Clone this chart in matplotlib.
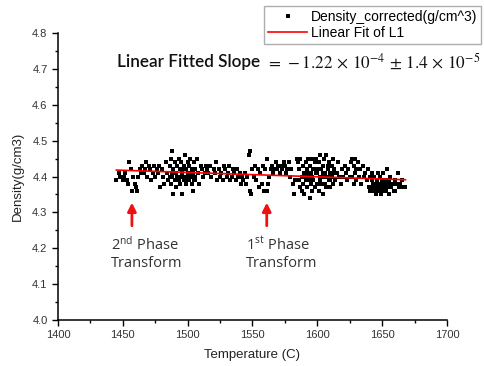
import numpy as np
import matplotlib
matplotlib.use('Agg')
import matplotlib.pyplot as plt
from matplotlib.ticker import MultipleLocator

plt.rcParams['font.family'] = ['Liberation Sans', 'DejaVu Sans']
plt.rcParams['mathtext.fontset'] = 'custom'
plt.rcParams['mathtext.rm'] = 'STIXGeneral'
plt.rcParams['mathtext.it'] = 'STIXGeneral:italic'
plt.rcParams['mathtext.bf'] = 'STIXGeneral:bold'
plt.rcParams['mathtext.sf'] = 'Open Sans'
plt.rcParams['mathtext.fallback'] = 'stix'

# scatter data, grouped by temperature range
temp = [
    # 1445-1476
    1445, 1447, 1448, 1450, 1451, 1452, 1453, 1454, 1455, 1456,
    1457, 1458, 1459, 1460, 1461, 1462, 1463, 1464, 1465, 1466,
    1467, 1468, 1469, 1470, 1471, 1472, 1473, 1474, 1475, 1476,
    # 1477-1515
    1477, 1478, 1479, 1480, 1481, 1482, 1483, 1484, 1485, 1486,
    1486, 1487, 1487, 1488, 1488, 1489, 1489, 1490, 1490, 1491,
    1491, 1492, 1492, 1493, 1493, 1494, 1494, 1495, 1495, 1496,
    1496, 1497, 1497, 1498, 1498, 1499, 1499, 1500, 1500, 1501,
    1501, 1502, 1502, 1503, 1503, 1504, 1504, 1505, 1505, 1506,
    1506, 1507, 1508, 1509, 1510, 1511, 1512, 1513, 1514, 1515,
    1488, 1490, 1492, 1494, 1496, 1498, 1500, 1502, 1504, 1506,
    # 1516-1546
    1516, 1517, 1518, 1520, 1521, 1522, 1523, 1524, 1525, 1526,
    1527, 1528, 1529, 1530, 1531, 1532, 1533, 1534, 1535, 1536,
    1537, 1538, 1539, 1540, 1541, 1542, 1543, 1544, 1545, 1546,
    # 1547-1570
    1547, 1548, 1548, 1549, 1550, 1551, 1552, 1553, 1554, 1555,
    1556, 1557, 1558, 1559, 1560, 1561, 1561, 1562, 1563, 1564,
    1565, 1566, 1567, 1568, 1569, 1570,
    # 1571-1584
    1571, 1572, 1573, 1574, 1575, 1576, 1577, 1578, 1579, 1580,
    1581, 1582, 1583, 1584,
    # 1585-1625
    1585, 1586, 1586, 1587, 1587, 1588, 1588, 1589, 1589, 1590,
    1590, 1591, 1591, 1592, 1592, 1593, 1593, 1594, 1594, 1595,
    1595, 1596, 1596, 1597, 1597, 1598, 1598, 1599, 1599, 1600,
    1600, 1601, 1601, 1602, 1602, 1603, 1603, 1604, 1604, 1605,
    1605, 1606, 1606, 1607, 1607, 1608, 1608, 1609, 1609, 1610,
    1610, 1611, 1611, 1612, 1612, 1613, 1614, 1615, 1616, 1617,
    1618, 1619, 1620, 1621, 1622, 1623, 1624, 1625, 1590, 1592,
    1594, 1596, 1598, 1600, 1602, 1604, 1606, 1608, 1610, 1612,
    # 1626-1668
    1626, 1627, 1627, 1628, 1628, 1629, 1629, 1630, 1630, 1631,
    1632, 1633, 1634, 1635, 1636, 1637, 1638, 1639, 1640, 1641,
    1641, 1642, 1642, 1643, 1643, 1644, 1644, 1645, 1645, 1646,
    1646, 1647, 1647, 1648, 1648, 1649, 1649, 1650, 1650, 1651,
    1651, 1652, 1652, 1653, 1653, 1654, 1654, 1655, 1655, 1656,
    1656, 1657, 1658, 1659, 1660, 1661, 1662, 1663, 1664, 1665,
    1666, 1668, 1645, 1650, 1655, 1660,
]
density = [
    4.39, 4.41, 4.40, 4.39, 4.40, 4.41, 4.39, 4.38, 4.44, 4.42,
    4.36, 4.40, 4.38, 4.37, 4.36, 4.40, 4.42, 4.41, 4.43, 4.41,
    4.42, 4.44, 4.40, 4.43, 4.42, 4.39, 4.41, 4.43, 4.40, 4.42,

    4.41, 4.43, 4.37, 4.42, 4.40, 4.38, 4.44, 4.41, 4.39, 4.43,
    4.40, 4.45, 4.38, 4.41, 4.47, 4.35, 4.42, 4.39, 4.44, 4.41,
    4.37, 4.43, 4.40, 4.45, 4.39, 4.42, 4.38, 4.44, 4.40, 4.35,
    4.41, 4.43, 4.39, 4.46, 4.40, 4.42, 4.38, 4.44, 4.41, 4.39,
    4.43, 4.40, 4.45, 4.38, 4.42, 4.36, 4.41, 4.44, 4.39, 4.42,
    4.40, 4.45, 4.41, 4.38, 4.43, 4.42, 4.40, 4.41, 4.43, 4.42,
    4.40, 4.41, 4.39, 4.40, 4.42, 4.39, 4.40, 4.41, 4.40, 4.39,

    4.41, 4.43, 4.40, 4.42, 4.41, 4.44, 4.39, 4.42, 4.40, 4.41,
    4.39, 4.43, 4.42, 4.40, 4.41, 4.43, 4.39, 4.40, 4.42, 4.41,
    4.39, 4.42, 4.40, 4.41, 4.38, 4.40, 4.39, 4.41, 4.38, 4.40,

    4.46, 4.47, 4.36, 4.35, 4.42, 4.40, 4.43, 4.39, 4.42, 4.37,
    4.41, 4.38, 4.43, 4.36, 4.42, 4.45, 4.36, 4.38, 4.40, 4.42,
    4.43, 4.41, 4.42, 4.44, 4.42, 4.43,

    4.41, 4.43, 4.42, 4.44, 4.43, 4.41, 4.42, 4.44, 4.40, 4.42,
    4.38, 4.35, 4.39, 4.45,

    4.44, 4.39, 4.42, 4.37, 4.45, 4.40, 4.36, 4.43, 4.38, 4.41,
    4.35, 4.44, 4.39, 4.42, 4.37, 4.45, 4.40, 4.34, 4.43, 4.38,
    4.41, 4.45, 4.36, 4.42, 4.39, 4.44, 4.37, 4.41, 4.45, 4.38,
    4.42, 4.36, 4.44, 4.40, 4.46, 4.38, 4.42, 4.35, 4.43, 4.40,
    4.45, 4.38, 4.41, 4.46, 4.37, 4.43, 4.40, 4.39, 4.44, 4.41,
    4.37, 4.43, 4.40, 4.45, 4.38, 4.42, 4.39, 4.41, 4.44, 4.40,
    4.38, 4.42, 4.40, 4.43, 4.41, 4.39, 4.42, 4.40, 4.40, 4.41,
    4.39, 4.40, 4.42, 4.41, 4.39, 4.41, 4.40, 4.42, 4.39, 4.41,

    4.44, 4.40, 4.45, 4.38, 4.43, 4.41, 4.45, 4.39, 4.42, 4.44,
    4.40, 4.42, 4.38, 4.43, 4.40, 4.41, 4.39, 4.42, 4.37, 4.40,
    4.36, 4.39, 4.41, 4.37, 4.38, 4.36, 4.40, 4.38, 4.35, 4.39,
    4.37, 4.41, 4.36, 4.38, 4.40, 4.37, 4.35, 4.39, 4.36, 4.38,
    4.41, 4.37, 4.39, 4.36, 4.38, 4.42, 4.37, 4.39, 4.35, 4.38,
    4.40, 4.37, 4.38, 4.36, 4.39, 4.38, 4.41, 4.37, 4.38, 4.39,
    4.37, 4.37, 4.38, 4.37, 4.38, 4.36,
]

# linear fit end points
fit_t = [1445, 1668]
fit_d = [4.418, 4.391]

# phase transform arrows (x, tail, head) and labels
arrow_t = [1457, 1561]
arrow_tail = 4.255
arrow_head = 4.335
phase_labels = ['2$^{\\mathsf{nd}}$ Phase\nTransform', '1$^{\\mathsf{st}}$ Phase\nTransform']
label_t = [1441, 1545]

fig = plt.figure(figsize=(4.85, 3.66), dpi=100)
ax = fig.add_axes([0.1196, 0.1257, 0.802, 0.784])

ax.plot(temp, density, 's', color='black', ms=2.3, mew=0,
        label='Density_corrected(g/cm^3)')
ax.plot(fit_t, fit_d, color='red', lw=1.2, label='Linear Fit of L1')

for t in arrow_t:
    ax.annotate('', xy=(t, arrow_head), xytext=(t, arrow_tail),
                arrowprops=dict(arrowstyle='-|>,head_width=0.25,head_length=0.5',
                                color='#ee1111', lw=2))
for t, lab in zip(label_t, phase_labels):
    ax.text(t, 4.185, lab, fontsize=10.5, color='#333333', family=['Open Sans', 'DejaVu Sans'],
            ha='left', va='center', linespacing=1.2)

ax.set_xlim(1400, 1700)
ax.set_ylim(4.0, 4.8)
ax.xaxis.set_major_locator(MultipleLocator(50))
ax.xaxis.set_minor_locator(MultipleLocator(25))
ax.yaxis.set_major_locator(MultipleLocator(0.1))
ax.yaxis.set_minor_locator(MultipleLocator(0.05))
ax.yaxis.set_major_formatter(matplotlib.ticker.FormatStrFormatter('%.1f'))
ax.tick_params(which='major', length=4, width=1, labelsize=8, labelcolor='#333333', direction='out')
ax.tick_params(which='minor', length=2.5, width=1, direction='out')
for s in ['top', 'right']:
    ax.spines[s].set_visible(False)
for s in ['left', 'bottom']:
    ax.spines[s].set_linewidth(1.1)

ax.set_xlabel('Temperature (C)', fontsize=9.5, color='#222222', labelpad=6)
ax.set_ylabel('Density(g/cm3)', fontsize=9.5, color='#222222', labelpad=6)

# slope annotation: words and formula as two pieces
fig.text(0.241, 0.83, 'Linear Fitted Slope', fontsize=12.3,
         family=['Lato', 'DejaVu Sans'], fontweight='semibold',
         ha='left', va='center', color='#111111')
fig.text(0.549, 0.832,
         '$=\\,-1.22\\,\\times\\,10^{-4}\\,\\pm\\,1.4\\,\\times\\,10^{-5}$',
         fontsize=12.4, ha='left', va='center', color='#111111')

leg = fig.legend(loc='upper right', bbox_to_anchor=(0.992, 0.984), fontsize=10,
                 frameon=True, fancybox=False, edgecolor='#999999',
                 handlelength=2.8, handletextpad=0.25, borderpad=0.3,
                 labelspacing=0.15, markerscale=1.2, borderaxespad=0)
leg.get_frame().set_linewidth(1)

fig.savefig('out.png', dpi=100)
